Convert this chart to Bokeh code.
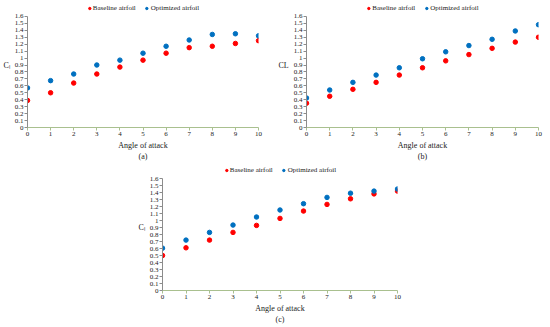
from bokeh.plotting import figure
from bokeh.layouts import column, row, Spacer
from bokeh.models import (ColumnDataSource, FixedTicker, CustomJSTickFormatter,
                          Legend, LegendItem, Range1d)
from bokeh.embed import file_html
from bokeh.resources import INLINE

angle = [0, 1, 2, 3, 4, 5, 6, 7, 8, 9, 10]

base_a = [0.39, 0.50, 0.64, 0.77, 0.87, 0.97, 1.07, 1.15, 1.17, 1.21, 1.25]
opt_a = [0.57, 0.675, 0.77, 0.90, 0.97, 1.07, 1.17, 1.26, 1.34, 1.35, 1.32]

base_b = [0.35, 0.45, 0.55, 0.65, 0.755, 0.86, 0.96, 1.05, 1.14, 1.23, 1.30]
opt_b = [0.425, 0.54, 0.65, 0.755, 0.86, 0.99, 1.09, 1.18, 1.27, 1.39, 1.48]

base_c = [0.50, 0.61, 0.72, 0.83, 0.93, 1.03, 1.135, 1.23, 1.31, 1.38, 1.42]
opt_c = [0.605, 0.72, 0.83, 0.935, 1.05, 1.15, 1.24, 1.33, 1.39, 1.42, 1.45]

y_ticks = [round(i * 0.1, 1) for i in range(17)]
x_ticks = angle

FONT = "Liberation Serif"
RED = "#ff0000"
BLUE = "#0070c0"
TXT = "#222222"


def make_panel(base, opt, tag, ylabel, w, h, bl, br, bt):
    p = figure(width=w, height=h, output_backend="svg",
               toolbar_location=None, x_range=Range1d(0, 10), y_range=Range1d(0, 1.8),
               min_border_left=bl, min_border_right=br, min_border_top=bt,
               min_border_bottom=1)
    p.outline_line_color = None
    p.grid.visible = False
    src = ColumnDataSource(dict(x=angle, b=base, o=opt))
    rb = p.scatter("x", "b", source=src, size=4.5, color=RED, line_color=RED)
    ro = p.scatter("x", "o", source=src, size=4.5, color=BLUE, line_color=BLUE)

    p.yaxis.ticker = FixedTicker(ticks=y_ticks)
    p.yaxis.bounds = (0, 1.6)
    p.yaxis.formatter = CustomJSTickFormatter(
        code="return tick.toFixed(1).replace(/\\.0$/, '');")
    p.xaxis.ticker = FixedTicker(ticks=x_ticks)
    for ax in (p.xaxis, p.yaxis):
        ax.major_label_text_font = FONT
        ax.major_label_text_font_size = "7px"
        ax.major_label_text_color = TXT
        ax.major_tick_out = 3
        ax.major_tick_in = 0
        ax.minor_tick_out = 0
        ax.minor_tick_in = 0
        ax.major_label_standoff = 1
        ax.axis_label_text_font = FONT
        ax.axis_label_text_font_style = "normal"
        ax.axis_label_text_color = TXT
    p.yaxis.axis_line_color = "#8c8c8c"
    p.yaxis.major_tick_line_color = "#8c8c8c"
    p.xaxis.axis_line_color = "#a9c08f"
    p.xaxis.major_tick_line_color = "#a9c08f"
    p.xaxis.axis_label = "Angle of attack\n" + tag
    p.xaxis.axis_label_text_font_size = "8px"
    p.xaxis.axis_label_text_line_height = 1.25
    p.xaxis.axis_label_standoff = 2

    p.yaxis.axis_label = ylabel
    p.yaxis.axis_label_orientation = "horizontal"
    p.yaxis.axis_label_text_font_size = "8px"
    p.yaxis.axis_label_standoff = 2

    legend = Legend(items=[LegendItem(label="Baseline airfoil", renderers=[rb]),
                           LegendItem(label="Optimized airfoil", renderers=[ro])],
                    orientation="horizontal", location="top_center",
                    label_text_font=FONT, label_text_font_size="7px",
                    label_text_color=TXT,
                    glyph_width=6, glyph_height=6, label_height=7,
                    label_standoff=1, spacing=8, padding=0, margin=2,
                    border_line_color=None, background_fill_alpha=0)
    p.add_layout(legend)
    return p


pa = make_panel(base_a, opt_a, "(a)", "C\u2097", 275, 163, 25, 17, 2)
pb = make_panel(base_b, opt_b, "(b)", "CL", 275, 163, 30, 12, 2)
pc = make_panel(base_c, opt_c, "(c)", "C\u2097", 272, 163, 27, 10, 1)

layout = column(row(pa, pb), row(Spacer(width=135, height=10), pc))
open("out.html", "w").write(file_html(layout, INLINE))
